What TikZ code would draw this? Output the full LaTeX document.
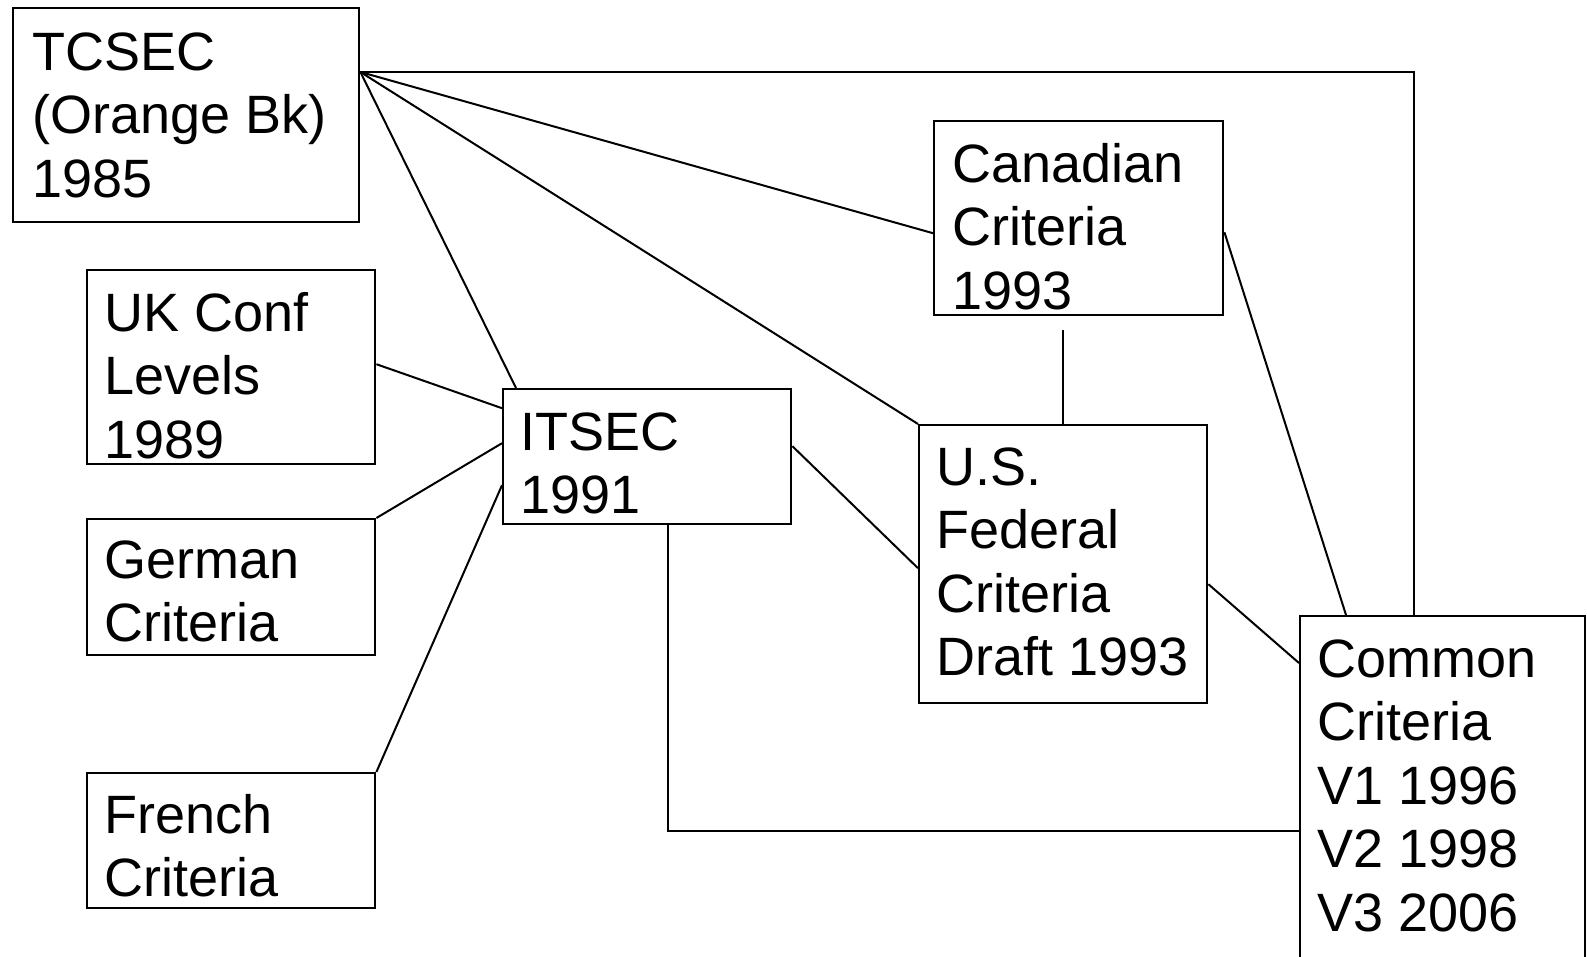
\documentclass[tikz,border=0pt]{standalone}
\usepackage{fontspec}
\setmainfont{Liberation Sans}
\begin{document}
\begin{tikzpicture}[x=1pt,y=-1pt,
  box/.style={draw=black,line width=2.4pt,fill=white,anchor=north west,inner sep=0pt},
  txt/.style={anchor=base west,inner sep=0pt,font=\fontsize{54}{63.5}\selectfont},
  conn/.style={draw=black,line width=2pt}]
\useasboundingbox[fill=white] (0,0) rectangle (1587,956);
% connectors (drawn first, boxes on top)
% boxes
\node[box,minimum width=346pt,minimum height=214pt] (tcsec) at (12,7) {};
\node[box,minimum width=288pt,minimum height=194pt] (uk) at (86,269) {};
\node[box,minimum width=288pt,minimum height=136pt] (german) at (86,518) {};
\node[box,minimum width=288pt,minimum height=135pt] (french) at (86,772) {};
\node[box,minimum width=288pt,minimum height=135pt] (itsec) at (502,388) {};
\node[box,minimum width=289pt,minimum height=194pt] (canadian) at (933,120) {};
\node[box,minimum width=288pt,minimum height=278pt] (us) at (918,424) {};
\node[box,minimum width=285pt,minimum height=400pt] (cc) at (1299,615) {};
% texts
\node[txt] (tcsec-t) at (32,70) {\vtop{\hbox{TCSEC}\hbox{(Orange Bk)}\hbox{1985}}};
\node[txt] (uk-t) at (104,331) {\vtop{\hbox{UK Conf}\hbox{Levels}\hbox{1989}}};
\node[txt] (german-t) at (104,578) {\vtop{\hbox{German}\hbox{Criteria}}};
\node[txt] (french-t) at (104,833) {\vtop{\hbox{French}\hbox{Criteria}}};
\node[txt] (itsec-t) at (520,450) {\vtop{\hbox{ITSEC}\hbox{1991}}};
\node[txt] (canadian-t) at (952,182) {\vtop{\hbox{Canadian}\hbox{Criteria}\hbox{1993}}};
\node[txt] (us-t) at (936,485) {\vtop{\hbox{U.S.}\hbox{Federal}\hbox{Criteria}\hbox{Draft 1993}}};
\node[txt] (cc-t) at (1317,677) {\vtop{\hbox{Common}\hbox{Criteria}\hbox{V1 1996}\hbox{V2 1998}\hbox{V3 2006}}};
% connectors
\draw[conn] ([yshift=-65pt]tcsec.north east) -- ([xshift=14pt]itsec.north west);
\draw[conn] ([yshift=-65pt]tcsec.north east) -- (us.north west);
\draw[conn] ([yshift=-65pt]tcsec.north east) -- ([yshift=-15pt]canadian.west);
\draw[conn] ([yshift=-65pt]tcsec.north east) -| ([xshift=115pt]cc.north west);
\draw[conn] ([yshift=3pt]uk.east) -- ([yshift=48.5pt]itsec.west);
\draw[conn] (german.north east) -- ([yshift=13.5pt]itsec.west);
\draw[conn] (french.north east) -- ([yshift=-28.5pt]itsec.west);
\draw[conn] ([yshift=10.5pt]itsec.east) -- ([yshift=-4pt]us.west);
\draw[conn] ([xshift=21pt]itsec.south) |- ([yshift=-216pt]cc.north west);
\draw[conn] (us.north) -- ([xshift=-15.5pt,yshift=-14pt]canadian.south);
\draw[conn] ([yshift=-14pt]canadian.east) -- ([xshift=47pt]cc.north west);
\draw[conn] ([yshift=-20pt]us.east) -- ([yshift=-48pt]cc.north west);
\end{tikzpicture}
\end{document}
